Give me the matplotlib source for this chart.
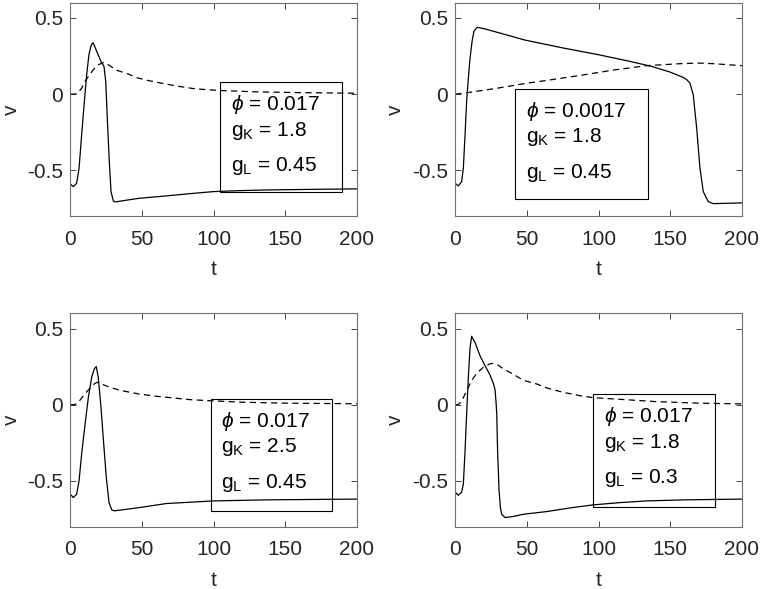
import matplotlib
matplotlib.use("Agg")
import matplotlib.pyplot as plt
from matplotlib.patches import Rectangle

plt.rcParams['font.family'] = ['Liberation Sans', 'DejaVu Sans']
plt.rcParams['mathtext.fontset'] = 'custom'
plt.rcParams['mathtext.rm'] = 'Liberation Sans'
plt.rcParams['mathtext.it'] = 'Liberation Sans:italic'
plt.rcParams['mathtext.fallback'] = 'stixsans'
plt.rcParams['axes.unicode_minus'] = False

# ---------------- data ----------------
# panel 1: phi=0.017, gK=1.8, gL=0.45
t1_v = [0, 2, 4.4, 6.1, 7.9, 9.8, 11.4, 13, 14.5, 15.8, 17, 18.4, 21.4, 23.5, 24.7, 25.8,
        27.2, 28.4, 30, 31.2, 40, 47.9, 67.2, 85, 99.8, 120, 137, 170, 200]
v1 = [-0.59, -0.607, -0.586, -0.487, -0.267, -0.048, 0.128, 0.259, 0.32, 0.338, 0.315, 0.281,
      0.215, 0.182, 0.084, -0.158, -0.443, -0.640, -0.701, -0.708, -0.695, -0.684, -0.668,
      -0.652, -0.640, -0.633, -0.629, -0.625, -0.622]
t1_w = [0, 3, 5, 7.9, 10.3, 12.6, 16, 19.5, 23, 25.5, 28.9, 33, 40.5, 46.3, 55, 63.7, 75, 87,
        104.4, 130, 160, 200]
w1 = [0.0, 0.0, 0.005, 0.039, 0.084, 0.116, 0.16, 0.193, 0.207, 0.2, 0.178, 0.155, 0.132,
      0.108, 0.088, 0.072, 0.052, 0.035, 0.024, 0.015, 0.01, 0.006]

# panel 2: phi=0.0017, gK=1.8, gL=0.45
t2_v = [0, 2.1, 4.4, 5.6, 6.8, 7.9, 9.1, 10.3, 11.7, 13, 15.3, 20, 31.2, 48.6, 75.3, 99.8,
        121.9, 137, 149.8, 159, 161.5, 163.7, 166, 168.4, 170.7, 173, 176.5, 180, 200]
v2 = [-0.586, -0.603, -0.574, -0.487, -0.267, -0.048, 0.105, 0.237, 0.347, 0.413, 0.439, 0.43,
      0.401, 0.355, 0.303, 0.259, 0.215, 0.182, 0.145, 0.11, 0.095, 0.072, -0.004, -0.224,
      -0.487, -0.64, -0.706, -0.719, -0.714]
t2_w = [0, 5, 10, 17.2, 30, 40.5, 50, 63.7, 87, 110.2, 133.5, 156.8, 170, 180, 200]
w2 = [0.0, 0.005, 0.012, 0.022, 0.04, 0.057, 0.072, 0.09, 0.123, 0.158, 0.187, 0.2, 0.204,
      0.2, 0.187]

# panel 3: phi=0.017, gK=2.5, gL=0.45
t3_v = [0, 2.1, 4.4, 6.1, 7.9, 10.3, 12.6, 14.9, 16.7, 18.1, 19.5, 21.4, 23.3, 25.1, 27,
        28.9, 30.7, 40, 47.9, 67.2, 99.8, 137, 200]
v3 = [-0.588, -0.61, -0.588, -0.5, -0.324, -0.127, 0.048, 0.18, 0.235, 0.25, 0.18, -0.018,
      -0.259, -0.478, -0.643, -0.691, -0.697, -0.686, -0.676, -0.649, -0.632, -0.625, -0.62]
t3_w = [0, 3, 5.6, 9.1, 12.6, 16, 18.6, 22, 26.5, 30, 35.8, 48, 60.3, 83.5, 97.5, 120, 150, 200]
w3 = [0.0, 0.0, 0.015, 0.059, 0.097, 0.132, 0.147, 0.135, 0.118, 0.107, 0.092, 0.07, 0.055,
      0.033, 0.026, 0.016, 0.01, 0.006]

# panel 4: phi=0.017, gK=1.8, gL=0.3
t4_v = [0, 2, 4.4, 5.6, 6.8, 7.9, 9.1, 10.3, 11.4, 13.7, 17.2, 20.7, 24.2, 26.5, 27.7, 28.4,
        28.9, 29.5, 30.5, 31.5, 32.4, 34.7, 40, 47.9, 63.7, 80, 96.2, 115, 133.5, 160, 200]
v4 = [-0.575, -0.595, -0.575, -0.522, -0.303, -0.061, 0.18, 0.377, 0.449, 0.41, 0.322, 0.257,
      0.195, 0.14, 0.10, 0.02, -0.06, -0.3, -0.56, -0.68, -0.72, -0.741, -0.735, -0.719,
      -0.702, -0.678, -0.658, -0.643, -0.632, -0.625, -0.62]
t4_w = [0, 2, 4.4, 7.9, 11.4, 14.9, 19.5, 24.2, 27, 30, 33.5, 40.5, 47.4, 56.8, 63.7, 75.3,
        87, 96.3, 115, 140, 170, 200]
w4 = [0.0, 0.0, 0.022, 0.092, 0.158, 0.206, 0.245, 0.268, 0.272, 0.258, 0.235, 0.2, 0.16,
      0.136, 0.11, 0.081, 0.059, 0.046, 0.035, 0.02, 0.01, 0.005]

labels = [
    [r'$\phi$ = 0.017', r'g$_\mathrm{K}$ = 1.8', r'g$_\mathrm{L}$ = 0.45'],
    [r'$\phi$ = 0.0017', r'g$_\mathrm{K}$ = 1.8', r'g$_\mathrm{L}$ = 0.45'],
    [r'$\phi$ = 0.017', r'g$_\mathrm{K}$ = 2.5', r'g$_\mathrm{L}$ = 0.45'],
    [r'$\phi$ = 0.017', r'g$_\mathrm{K}$ = 1.8', r'g$_\mathrm{L}$ = 0.3'],
]
xticks = [0, 50, 100, 150, 200]
yticks = [-0.5, 0, 0.5]
ytick_labels = ['-0.5', '0', '0.5']

# ---------------- layout ----------------
boxes = [  # (t_left, t_right, v_top, v_bottom)
    (104.5, 189.5, 0.078, -0.644),
    (41.8, 134.5, 0.035, -0.688),
    (98.0, 182.8, 0.040, -0.700),
    (96.4, 181.2, 0.067, -0.675),
]
positions = [
    [0.0924, 0.6333, 0.3767, 0.362],
    [0.5983, 0.6333, 0.3767, 0.362],
    [0.0924, 0.1061, 0.3767, 0.362],
    [0.5983, 0.1061, 0.3767, 0.362],
]
series = [(t1_v, v1, t1_w, w1), (t2_v, v2, t2_w, w2), (t3_v, v3, t3_w, w3), (t4_v, v4, t4_w, w4)]

dark = '#262626'
fig = plt.figure(figsize=(7.61, 5.89), dpi=100)
px = 0.72  # points per pixel
for i in range(4):
    ax = fig.add_axes(positions[i])
    tv, vv, tw, ww = series[i]
    ax.plot(tv, vv, color='k', lw=0.9)
    ax.plot(tw, ww, color='k', lw=0.9, ls=(0, (5, 3.5)))
    ax.set_xlim(0, 200)
    ax.set_ylim(-0.8, 0.6)
    ax.set_xticks(xticks)
    ax.set_yticks(yticks)
    ax.set_yticklabels(ytick_labels)
    ax.tick_params(direction='in', top=True, right=True, length=4, width=0.6,
                   labelsize=15, colors=dark)
    ax.tick_params(axis='x', pad=10)
    ax.tick_params(axis='y', pad=5)
    for s in ax.spines.values():
        s.set_color('#6f6f6f')
        s.set_linewidth(0.8)
    ax.set_xlabel('t', fontsize=15, color=dark, labelpad=8)
    ax.set_ylabel('v', fontsize=15, color=dark, labelpad=5)
    b = boxes[i]
    ax.add_patch(Rectangle((b[0], b[3]), b[1] - b[0], b[2] - b[3], fill=False,
                           ec='k', lw=0.8, zorder=3))
    offs = [28, 53.5, 89]
    for j, txt in enumerate(labels[i]):
        ax.annotate(txt, xy=(b[0], b[2]), xycoords='data',
                    xytext=(10.5 * px, -offs[j] * px), textcoords='offset points',
                    ha='left', va='baseline', fontsize=15, color='k', zorder=4)

fig.savefig('out.png', dpi=100)
